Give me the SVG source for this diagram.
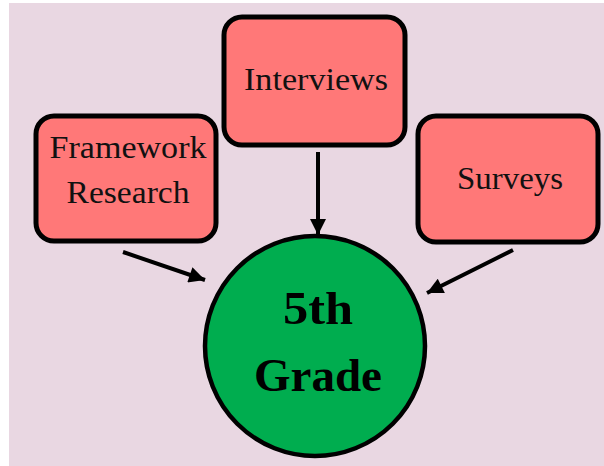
<svg xmlns="http://www.w3.org/2000/svg" width="604" height="466" viewBox="0 0 604 466">
  <style>
    .box { fill: #FF7878; stroke: #000; stroke-width: 5; }
    .hub { fill: #00AD4F; stroke: #000; stroke-width: 4.5; }
    .label { font-family: "Liberation Serif", "DejaVu Serif", serif; font-size: 31px; fill: #111; text-anchor: middle; }
    .hub-label { font-family: "Liberation Serif", "DejaVu Serif", serif; font-size: 47px; font-weight: bold; fill: #000; text-anchor: middle; }
    .link { stroke: #000; stroke-width: 4; fill: none; marker-end: url(#head); }
  </style>
  <defs>
    <marker id="head" viewBox="0 0 10 10" refX="10" refY="5" markerWidth="18" markerHeight="16" markerUnits="userSpaceOnUse" orient="auto">
      <path d="M0,0 L10,5 L0,10 z" fill="#000"/>
    </marker>
  </defs>

  <rect x="9" y="3" width="595" height="463" fill="#E9D7E2"/>

  <g id="connectors">
    <line class="link" x1="123" y1="252" x2="205" y2="280"/>
    <line class="link" x1="318" y1="152" x2="318" y2="235"/>
    <line class="link" x1="513" y1="250" x2="427" y2="293"/>
  </g>

  <g id="framework-research">
    <rect class="box" x="36" y="116" width="180" height="125" rx="18"/>
    <text class="label" x="128" y="158" textLength="157" lengthAdjust="spacingAndGlyphs">Framework</text>
    <text class="label" x="128" y="203" textLength="123" lengthAdjust="spacingAndGlyphs">Research</text>
  </g>

  <g id="interviews">
    <rect class="box" x="224" y="17" width="181" height="128" rx="18"/>
    <text class="label" x="316" y="90" textLength="144" lengthAdjust="spacingAndGlyphs">Interviews</text>
  </g>

  <g id="surveys">
    <rect class="box" x="418" y="116" width="180" height="126" rx="18"/>
    <text class="label" x="510" y="189" textLength="106" lengthAdjust="spacingAndGlyphs">Surveys</text>
  </g>

  <g id="fifth-grade">
    <circle class="hub" cx="315" cy="346" r="110"/>
    <text class="hub-label" x="318" y="324" textLength="70" lengthAdjust="spacingAndGlyphs">5th</text>
    <text class="hub-label" x="318" y="391" textLength="128" lengthAdjust="spacingAndGlyphs">Grade</text>
  </g>
</svg>
